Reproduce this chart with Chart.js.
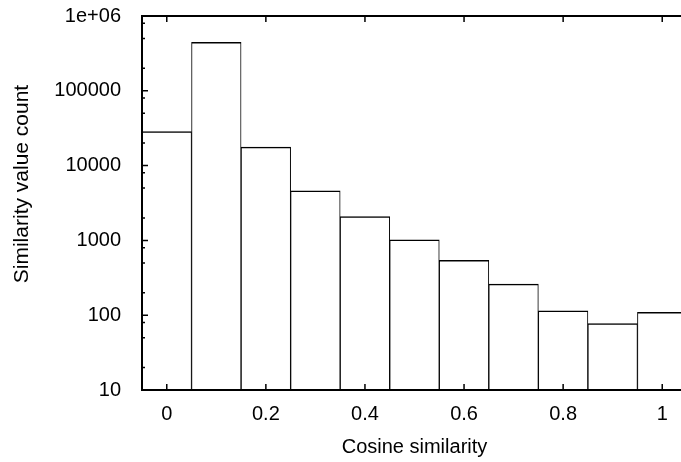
<!DOCTYPE html>
<html>
<head>
<meta charset="utf-8">
<script src="https://cdn.jsdelivr.net/npm/chart.js@4.4.0/dist/chart.umd.min.js"></script>
<style>
  html, body { margin: 0; padding: 0; background: #fff; }
  #wrap { width: 681px; height: 462px; overflow: hidden; }
</style>
</head>
<body>
<div id="wrap"><canvas id="chart" width="688" height="462" style="width:688px;height:462px"></canvas></div>
<script>
// histogram bins (centre of each 0.1 wide bin) and counts
const binLabels = ['0', '0.1', '0.2', '0.3', '0.4', '0.5', '0.6', '0.7', '0.8', '0.9', '1'];
const counts = [28400, 445000, 17700, 4600, 2080, 1020, 540, 260, 114, 77, 109];

const yTickValues = [10, 100, 1000, 10000, 100000, 1000000];
const yTickLabels = ['10', '100', '1000', '10000', '100000', '1e+06'];
const minorFactors = [2, 5, 8];

const xTitle = 'Cosine similarity';
const yTitle = 'Similarity value count';

const FONT = '"Liberation Sans", Arial, Helvetica, sans-serif';

// gnuplot style frame, inward ticks, rotated y label
const gnuplotFrame = {
    id: 'gnuplotFrame',
    afterDatasetsDraw(chart) {
        const { ctx, chartArea: a, scales: { x, y } } = chart;
        ctx.save();
        ctx.strokeStyle = '#000';
        ctx.lineWidth = 2;
        ctx.strokeRect(a.left, a.top, a.right - a.left, a.bottom - a.top);

        ctx.lineWidth = 1.5;
        ctx.beginPath();
        binLabels.forEach((lab, i) => {
            if (i % 2) return;
            const px = x.getPixelForValue(i);
            ctx.moveTo(px, a.bottom); ctx.lineTo(px, a.bottom - 6);
            ctx.moveTo(px, a.top); ctx.lineTo(px, a.top + 6);
        });
        yTickValues.forEach((v, i) => {
            const py = y.getPixelForValue(v);
            ctx.moveTo(a.left, py); ctx.lineTo(a.left + 6, py);
            ctx.moveTo(a.right, py); ctx.lineTo(a.right - 6, py);
            if (i < yTickValues.length - 1) {
                minorFactors.forEach(f => {
                    const pm = y.getPixelForValue(v * f);
                    ctx.moveTo(a.left, pm); ctx.lineTo(a.left + 3, pm);
                    ctx.moveTo(a.right, pm); ctx.lineTo(a.right - 3, pm);
                });
            }
        });
        ctx.stroke();

        ctx.fillStyle = '#000';
        ctx.font = '21px ' + FONT;
        ctx.textAlign = 'center';
        ctx.textBaseline = 'middle';
        ctx.translate(22, (a.top + a.bottom) / 2 - 19);
        ctx.rotate(-Math.PI / 2);
        ctx.fillText(yTitle, 0, 0);
        ctx.restore();
    }
};

const ctx = document.getElementById('chart').getContext('2d');
const histChart = new Chart(ctx, {
    type: 'bar',
    data: {
        labels: binLabels,
        datasets: [{
            label: 'count',
            data: counts,
            backgroundColor: '#fff',
            borderColor: '#000',
            borderWidth: { top: 1.5, left: 1, right: 1, bottom: 0 },
            borderSkipped: false,
            barPercentage: 1,
            categoryPercentage: 1
        }]
    },
    options: {
        responsive: false,
        animation: false,
        devicePixelRatio: 1,
        layout: { padding: { left: 0, top: 16, right: 1, bottom: 0 } },
        plugins: { legend: { display: false }, tooltip: { enabled: false } },
        scales: {
            x: {
                type: 'category',
                offset: true,
                grid: { display: false, drawTicks: false },
                border: { display: false },
                ticks: {
                    autoSkip: false,
                    maxRotation: 0,
                    padding: 12,
                    color: '#000',
                    font: { family: FONT, size: 20 },
                    callback: function (val, i) { return i % 2 ? null : binLabels[i]; }
                },
                title: {
                    display: true,
                    text: xTitle,
                    color: '#000',
                    font: { family: FONT, size: 20 },
                    padding: { top: 0, bottom: 3 }
                },
                afterFit: (scale) => {
                    scale.height = 72;
                    scale.paddingLeft = 0;
                    scale.paddingRight = 0;
                }
            },
            y: {
                type: 'logarithmic',
                min: 10,
                max: 1000000,
                grid: { display: false, drawTicks: false },
                border: { display: false },
                afterBuildTicks: (scale) => {
                    scale.ticks = yTickValues.map(v => ({ value: v }));
                },
                ticks: {
                    padding: 21,
                    color: '#000',
                    font: { family: FONT, size: 20 },
                    callback: (v, i) => yTickLabels[i]
                },
                afterFit: (scale) => {
                    scale.width = 142;
                    scale.paddingTop = 0;
                    scale.paddingBottom = 0;
                }
            }
        }
    },
    plugins: [gnuplotFrame]
});
</script>
</body>
</html>
